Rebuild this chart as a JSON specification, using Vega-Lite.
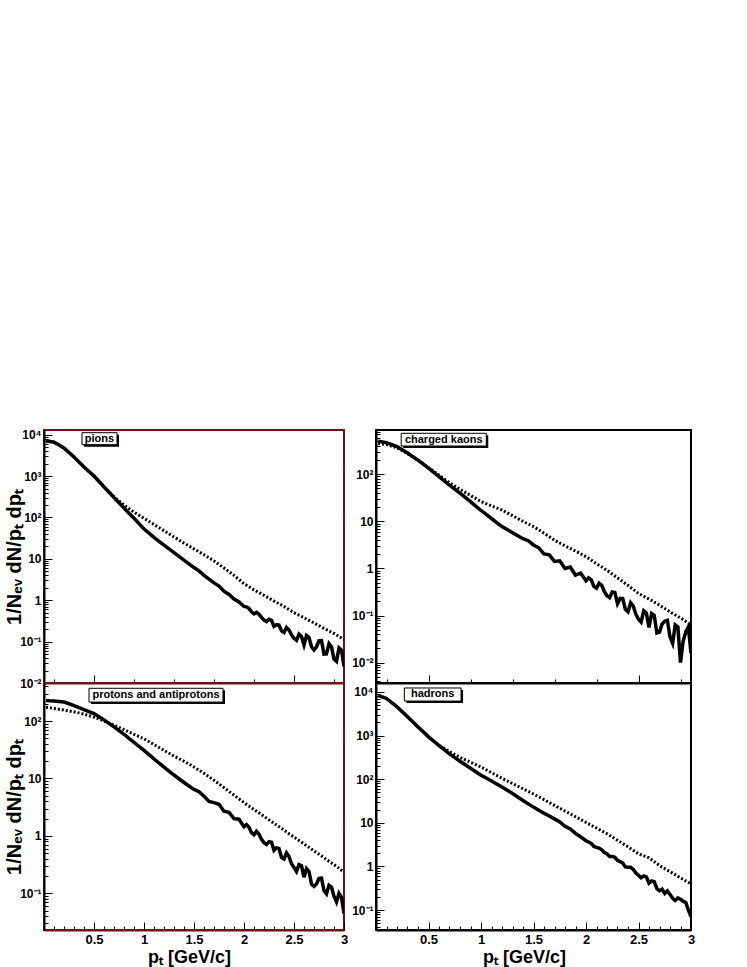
{
  "$schema": "https://vega.github.io/schema/vega-lite/v6.json",
  "padding": {"left": 3, "top": 424, "right": 5, "bottom": 5},
  "background": "white",
  "config": {
    "font": "Liberation Sans",
    "axis": {"grid": false, "labelFont": "Liberation Sans", "labelFontWeight": "bold", "titleFont": "Liberation Sans", "titleFontWeight": "bold", "tickColor": "black", "domainColor": "black", "labelColor": "black", "titleColor": "black", "labelOverlap": false, "labelFlush": false, "tickWidth": 1}
  },
  "datasets": {
    "solid": [
      {"pt": 0.02, "pi": 7080, "K": 501, "pr": 229, "h": 8320},
      {"pt": 0.05, "pi": 6920, "K": 490, "pr": 226, "h": 7760},
      {"pt": 0.1, "pi": 6610, "K": 468, "pr": 224, "h": 7080},
      {"pt": 0.15, "pi": 5620, "K": 427, "pr": 219, "h": 5690},
      {"pt": 0.2, "pi": 4790, "K": 389, "pr": 214, "h": 4570},
      {"pt": 0.25, "pi": 3720, "K": 331, "pr": 200, "h": 3510},
      {"pt": 0.3, "pi": 2880, "K": 282, "pr": 186, "h": 2690},
      {"pt": 0.35, "pi": 2190, "K": 237, "pr": 172, "h": 2070},
      {"pt": 0.4, "pi": 1660, "K": 200, "pr": 158, "h": 1580},
      {"pt": 0.45, "pi": 1290, "K": 164, "pr": 146, "h": 1220},
      {"pt": 0.5, "pi": 1000, "K": 135, "pr": 135, "h": 933},
      {"pt": 0.55, "pi": 741, "K": 110, "pr": 119, "h": 741},
      {"pt": 0.6, "pi": 550, "K": 89.1, "pr": 105, "h": 589},
      {"pt": 0.65, "pi": 407, "K": 72.4, "pr": 91.2, "h": 473},
      {"pt": 0.7, "pi": 302, "K": 58.9, "pr": 79.4, "h": 380},
      {"pt": 0.75, "pi": 226, "K": 48.4, "pr": 68.4, "h": 313},
      {"pt": 0.8, "pi": 170, "K": 39.8, "pr": 58.9, "h": 257},
      {"pt": 0.85, "pi": 127, "K": 32.4, "pr": 50.1, "h": 214},
      {"pt": 0.9, "pi": 95.5, "K": 26.3, "pr": 42.7, "h": 178},
      {"pt": 0.95, "pi": 70.8, "K": 21.1, "pr": 36.3, "h": 148},
      {"pt": 1.0, "pi": 52.5, "K": 17.0, "pr": 30.9, "h": 123},
      {"pt": 1.05, "pi": 41.7, "K": 14.0, "pr": 26.0, "h": 106},
      {"pt": 1.1, "pi": 33.1, "K": 11.5, "pr": 21.9, "h": 91.2},
      {"pt": 1.15, "pi": 26.6, "K": 9.44, "pr": 18.6, "h": 77.6},
      {"pt": 1.2, "pi": 21.4, "K": 7.76, "pr": 15.8, "h": 66.1},
      {"pt": 1.25, "pi": 17.4, "K": 6.68, "pr": 13.5, "h": 55.6},
      {"pt": 1.3, "pi": 14.1, "K": 5.75, "pr": 11.5, "h": 46.8},
      {"pt": 1.35, "pi": 11.5, "K": 4.95, "pr": 9.89, "h": 38.9},
      {"pt": 1.4, "pi": 9.33, "K": 4.27, "pr": 8.51, "h": 32.4},
      {"pt": 1.45, "pi": 7.59, "K": 3.89, "pr": 7.41, "h": 27.2},
      {"pt": 1.5, "pi": 6.17, "K": 3.16, "pr": 6.46, "h": 22.9},
      {"pt": 1.55, "pi": 5.13, "K": 2.75, "pr": 5.89, "h": 19.5},
      {"pt": 1.6, "pi": 3.98, "K": 2.04, "pr": 4.90, "h": 16.6},
      {"pt": 1.65, "pi": 3.24, "K": 1.95, "pr": 3.98, "h": 14.3},
      {"pt": 1.7, "pi": 2.63, "K": 1.41, "pr": 3.80, "h": 12.3},
      {"pt": 1.75, "pi": 2.19, "K": 1.45, "pr": 3.55, "h": 10.5},
      {"pt": 1.8, "pi": 1.66, "K": 1.0, "pr": 2.69, "h": 8.32},
      {"pt": 1.85, "pi": 1.38, "K": 1.07, "pr": 2.57, "h": 7.24},
      {"pt": 1.9, "pi": 1.07, "K": 0.724, "pr": 2.0, "h": 5.75},
      {"pt": 1.95, "pi": 0.912, "K": 0.794, "pr": 1.95, "h": 4.73},
      {"pt": 2.0, "pi": 0.708, "K": 0.55, "pr": 1.45, "h": 3.89},
      {"pt": 2.025, "pi": 0.692, "K": 0.631, "pr": 1.57, "h": 3.63},
      {"pt": 2.05, "pi": 0.631, "K": 0.575, "pr": 1.41, "h": 3.39},
      {"pt": 2.075, "pi": 0.525, "K": 0.417, "pr": 1.14, "h": 2.88},
      {"pt": 2.1, "pi": 0.468, "K": 0.380, "pr": 1.05, "h": 2.75},
      {"pt": 2.125, "pi": 0.507, "K": 0.484, "pr": 1.20, "h": 2.63},
      {"pt": 2.15, "pi": 0.457, "K": 0.437, "pr": 1.07, "h": 2.40},
      {"pt": 2.175, "pi": 0.385, "K": 0.320, "pr": 0.871, "h": 2.09},
      {"pt": 2.2, "pi": 0.331, "K": 0.263, "pr": 0.759, "h": 1.95},
      {"pt": 2.225, "pi": 0.305, "K": 0.240, "pr": 0.708, "h": 1.70},
      {"pt": 2.25, "pi": 0.347, "K": 0.316, "pr": 0.794, "h": 1.70},
      {"pt": 2.275, "pi": 0.327, "K": 0.309, "pr": 0.776, "h": 1.62},
      {"pt": 2.3, "pi": 0.234, "K": 0.178, "pr": 0.562, "h": 1.38},
      {"pt": 2.325, "pi": 0.257, "K": 0.229, "pr": 0.624, "h": 1.29},
      {"pt": 2.35, "pi": 0.251, "K": 0.229, "pr": 0.603, "h": 1.20},
      {"pt": 2.375, "pi": 0.182, "K": 0.135, "pr": 0.422, "h": 0.977},
      {"pt": 2.4, "pi": 0.166, "K": 0.120, "pr": 0.398, "h": 0.955},
      {"pt": 2.425, "pi": 0.219, "K": 0.186, "pr": 0.507, "h": 0.955},
      {"pt": 2.45, "pi": 0.191, "K": 0.158, "pr": 0.437, "h": 0.851},
      {"pt": 2.475, "pi": 0.145, "K": 0.107, "pr": 0.327, "h": 0.708},
      {"pt": 2.5, "pi": 0.120, "K": 0.0832, "pr": 0.282, "h": 0.631},
      {"pt": 2.525, "pi": 0.107, "K": 0.0724, "pr": 0.240, "h": 0.550},
      {"pt": 2.55, "pi": 0.151, "K": 0.126, "pr": 0.316, "h": 0.603},
      {"pt": 2.575, "pi": 0.133, "K": 0.112, "pr": 0.302, "h": 0.575},
      {"pt": 2.6, "pi": 0.0832, "K": 0.0562, "pr": 0.191, "h": 0.417},
      {"pt": 2.625, "pi": 0.140, "K": 0.110, "pr": 0.269, "h": 0.468},
      {"pt": 2.65, "pi": 0.126, "K": 0.1, "pr": 0.240, "h": 0.447},
      {"pt": 2.675, "pi": 0.075, "K": 0.0427, "pr": 0.145, "h": 0.309},
      {"pt": 2.7, "pi": 0.0631, "K": 0.0447, "pr": 0.132, "h": 0.275},
      {"pt": 2.725, "pi": 0.075, "K": 0.0661, "pr": 0.146, "h": 0.302},
      {"pt": 2.75, "pi": 0.105, "K": 0.0759, "pr": 0.182, "h": 0.240},
      {"pt": 2.775, "pi": 0.106, "K": 0.0794, "pr": 0.184, "h": 0.275},
      {"pt": 2.8, "pi": 0.0501, "K": 0.0355, "pr": 0.112, "h": 0.229},
      {"pt": 2.825, "pi": 0.0507, "K": 0.0257, "pr": 0.0977, "h": 0.186},
      {"pt": 2.85, "pi": 0.0891, "K": 0.0631, "pr": 0.138, "h": 0.166},
      {"pt": 2.875, "pi": 0.075, "K": 0.0575, "pr": 0.129, "h": 0.191},
      {"pt": 2.9, "pi": 0.038, "K": 0.01, "pr": 0.0891, "h": 0.178},
      {"pt": 2.925, "pi": 0.0335, "K": 0.0285, "pr": 0.0708, "h": 0.158},
      {"pt": 2.95, "pi": 0.0708, "K": 0.0447, "pr": 0.1, "h": 0.151},
      {"pt": 2.975, "pi": 0.0624, "K": 0.0569, "pr": 0.0851, "h": 0.1},
      {"pt": 3.0, "pi": 0.0251, "K": 0.0158, "pr": 0.0447, "h": 0.0708}
    ],
    "dotted": [
      {"pt": 0.02, "pi": 7080, "K": 447, "pr": 174, "h": 8320},
      {"pt": 0.1, "pi": 6610, "K": 427, "pr": 166, "h": 7080},
      {"pt": 0.2, "pi": 4790, "K": 363, "pr": 155, "h": 4570},
      {"pt": 0.3, "pi": 2880, "K": 275, "pr": 145, "h": 2690},
      {"pt": 0.4, "pi": 1660, "K": 200, "pr": 132, "h": 1580},
      {"pt": 0.5, "pi": 1000, "K": 138, "pr": 117, "h": 933},
      {"pt": 0.6, "pi": 562, "K": 95.5, "pr": 100, "h": 603},
      {"pt": 0.7, "pi": 316, "K": 66.1, "pr": 85.1, "h": 427},
      {"pt": 0.8, "pi": 200, "K": 47.9, "pr": 70.8, "h": 316},
      {"pt": 0.9, "pi": 135, "K": 35.5, "pr": 58.9, "h": 245},
      {"pt": 1.0, "pi": 95.5, "K": 26.3, "pr": 49.0, "h": 191},
      {"pt": 1.1, "pi": 67.6, "K": 21.4, "pr": 38.9, "h": 141},
      {"pt": 1.2, "pi": 47.9, "K": 17.4, "pr": 30.9, "h": 105},
      {"pt": 1.3, "pi": 33.9, "K": 13.2, "pr": 24.5, "h": 79.4},
      {"pt": 1.4, "pi": 24.0, "K": 10, "pr": 20.0, "h": 60.3},
      {"pt": 1.5, "pi": 17.4, "K": 7.76, "pr": 15.8, "h": 45.7},
      {"pt": 1.6, "pi": 12.6, "K": 5.62, "pr": 12.3, "h": 33.9},
      {"pt": 1.7, "pi": 8.91, "K": 3.98, "pr": 9.33, "h": 25.1},
      {"pt": 1.8, "pi": 6.03, "K": 3.02, "pr": 6.92, "h": 18.6},
      {"pt": 1.9, "pi": 3.98, "K": 2.34, "pr": 5.13, "h": 13.8},
      {"pt": 2.0, "pi": 2.51, "K": 1.78, "pr": 3.80, "h": 10.2},
      {"pt": 2.1, "pi": 1.78, "K": 1.26, "pr": 2.88, "h": 7.59},
      {"pt": 2.2, "pi": 1.32, "K": 0.912, "pr": 2.19, "h": 5.62},
      {"pt": 2.3, "pi": 0.955, "K": 0.631, "pr": 1.66, "h": 3.98},
      {"pt": 2.4, "pi": 0.708, "K": 0.437, "pr": 1.26, "h": 2.82},
      {"pt": 2.5, "pi": 0.501, "K": 0.295, "pr": 0.955, "h": 1.95},
      {"pt": 2.6, "pi": 0.380, "K": 0.224, "pr": 0.724, "h": 1.58},
      {"pt": 2.7, "pi": 0.282, "K": 0.166, "pr": 0.550, "h": 1.05},
      {"pt": 2.8, "pi": 0.209, "K": 0.120, "pr": 0.417, "h": 0.759},
      {"pt": 2.9, "pi": 0.158, "K": 0.0891, "pr": 0.316, "h": 0.550},
      {"pt": 3.0, "pi": 0.112, "K": 0.0631, "pr": 0.234, "h": 0.398}
    ]
  },
  "columns": 2,
  "spacing": {"row": 0, "column": 32},
  "bounds": "flush",
  "concat": [
    {
      "width": 300, "height": 253,
      "view": {"stroke": "#6e1212", "strokeWidth": 2},
      "layer": [
        {
          "data": {"name": "dotted"},
          "mark": {"type": "line", "stroke": "black", "strokeWidth": 3, "strokeDash": [2, 2], "clip": true},
          "encoding": {
            "x": {"field": "pt", "type": "quantitative", "scale": {"domain": [0, 3], "nice": false, "zero": false},
              "axis": {"title": null, "labels": false, "domainColor": "#6e1212", "domainWidth": 2, "values": [0.1,0.2,0.3,0.4,0.5,0.6,0.7,0.8,0.9,1.0,1.1,1.2,1.3,1.4,1.5,1.6,1.7,1.8,1.9,2.0,2.1,2.2,2.3,2.4,2.5,2.6,2.7,2.8,2.9],
                "tickSize": {"condition": {"test": "abs(datum.value*2 - round(datum.value*2)) < 0.001", "value": -8}, "value": -4}}},
            "y": {"field": "pi", "type": "quantitative", "scale": {"type": "log", "domain": [0.01, 13000], "nice": false},
              "axis": {"title": "1/Nₑᵥ dN/pₜ dpₜ", "titleFontSize": 20, "titleX": -30, "titleBaseline": "middle", "labelFontSize": 12, "domainWidth": 2, "labelPadding": 11,
                "values": [0.01,0.02,0.03,0.04,0.05,0.06,0.07,0.08,0.09,0.1,0.2,0.3,0.4,0.5,0.6,0.7,0.8,0.9,1,2,3,4,5,6,7,8,9,10,20,30,40,50,60,70,80,90,100,200,300,400,500,600,700,800,900,1000,2000,3000,4000,5000,6000,7000,8000,9000,10000],
                "labelExpr": "datum.value==10000?'10⁴':datum.value==1000?'10³':datum.value==100?'10²':datum.value==10?'10':datum.value==1?'1':datum.value==0.1?'10⁻¹':datum.value==0.01?'10⁻²':''",
                "tickSize": {"condition": {"test": "abs(log(datum.value)/LN10 - round(log(datum.value)/LN10)) < 0.001", "value": -8}, "value": -4}}}
          }
        },
        {
          "data": {"name": "solid"},
          "mark": {"type": "line", "stroke": "black", "strokeWidth": 3.5, "clip": true},
          "encoding": {"x": {"field": "pt", "type": "quantitative"}, "y": {"field": "pi", "type": "quantitative"}}
        },
        {
          "data": {"values": [{}]},
          "mark": {"type": "rect", "fill": "black", "xOffset": 2, "yOffset": 2, "x2Offset": 2, "y2Offset": 2, "clip": true},
          "encoding": {"x": {"datum": 0.38}, "x2": {"datum": 0.73}, "y": {"datum": 11200}, "y2": {"datum": 5750}}
        },
        {
          "data": {"values": [{}]},
          "mark": {"type": "rect", "fill": "white", "stroke": "black", "strokeWidth": 1, "clip": true},
          "encoding": {"x": {"datum": 0.38}, "x2": {"datum": 0.73}, "y": {"datum": 11200}, "y2": {"datum": 5750}}
        },
        {
          "data": {"values": [{}]},
          "mark": {"type": "text", "font": "Liberation Sans", "fontWeight": "bold", "fontSize": 11, "align": "center", "baseline": "middle"},
          "encoding": {"x": {"datum": 0.555}, "y": {"datum": 7900}, "text": {"value": "pions"}}
        }
      ]
    },
    {
      "width": 315, "height": 253,
      "view": {"stroke": "black", "strokeWidth": 2},
      "layer": [
        {
          "data": {"name": "dotted"},
          "mark": {"type": "line", "stroke": "black", "strokeWidth": 3, "strokeDash": [2, 2], "clip": true},
          "encoding": {
            "x": {"field": "pt", "type": "quantitative", "scale": {"domain": [0, 3], "nice": false, "zero": false},
              "axis": {"title": null, "labels": false, "domainWidth": 2, "values": [0.1,0.2,0.3,0.4,0.5,0.6,0.7,0.8,0.9,1.0,1.1,1.2,1.3,1.4,1.5,1.6,1.7,1.8,1.9,2.0,2.1,2.2,2.3,2.4,2.5,2.6,2.7,2.8,2.9],
                "tickSize": {"condition": {"test": "abs(datum.value*2 - round(datum.value*2)) < 0.001", "value": -8}, "value": -4}}},
            "y": {"field": "K", "type": "quantitative", "scale": {"type": "log", "domain": [0.0037, 870], "nice": false},
              "axis": {"title": null, "labelFontSize": 12, "domainWidth": 2, "labelPadding": 11,
                "values": [0.004,0.005,0.006,0.007,0.008,0.009,0.01,0.02,0.03,0.04,0.05,0.06,0.07,0.08,0.09,0.1,0.2,0.3,0.4,0.5,0.6,0.7,0.8,0.9,1,2,3,4,5,6,7,8,9,10,20,30,40,50,60,70,80,90,100,200,300,400,500,600,700,800],
                "labelExpr": "datum.value==10000?'10⁴':datum.value==1000?'10³':datum.value==100?'10²':datum.value==10?'10':datum.value==1?'1':datum.value==0.1?'10⁻¹':datum.value==0.01?'10⁻²':''",
                "tickSize": {"condition": {"test": "abs(log(datum.value)/LN10 - round(log(datum.value)/LN10)) < 0.001", "value": -8}, "value": -4}}}
          }
        },
        {
          "data": {"name": "solid"},
          "mark": {"type": "line", "stroke": "black", "strokeWidth": 3.5, "clip": true},
          "encoding": {"x": {"field": "pt", "type": "quantitative"}, "y": {"field": "K", "type": "quantitative"}}
        },
        {
          "data": {"values": [{}]},
          "mark": {"type": "rect", "fill": "black", "xOffset": 2, "yOffset": 2, "x2Offset": 2, "y2Offset": 2, "clip": true},
          "encoding": {"x": {"datum": 0.24}, "x2": {"datum": 1.05}, "y": {"datum": 741}, "y2": {"datum": 398}}
        },
        {
          "data": {"values": [{}]},
          "mark": {"type": "rect", "fill": "white", "stroke": "black", "strokeWidth": 1, "clip": true},
          "encoding": {"x": {"datum": 0.24}, "x2": {"datum": 1.05}, "y": {"datum": 741}, "y2": {"datum": 398}}
        },
        {
          "data": {"values": [{}]},
          "mark": {"type": "text", "font": "Liberation Sans", "fontWeight": "bold", "fontSize": 11, "align": "center", "baseline": "middle"},
          "encoding": {"x": {"datum": 0.645}, "y": {"datum": 540}, "text": {"value": "charged kaons"}}
        }
      ]
    },
    {
      "width": 300, "height": 247,
      "view": {"stroke": "#6e1212", "strokeWidth": 2},
      "resolve": {"axis": {"x": "independent"}},
      "layer": [
        {
          "data": {"name": "dotted"},
          "mark": {"type": "line", "stroke": "black", "strokeWidth": 3, "strokeDash": [2, 2], "clip": true},
          "encoding": {
            "x": {"field": "pt", "type": "quantitative", "scale": {"domain": [0, 3], "nice": false, "zero": false},
              "axis": {"orient": "bottom", "title": "pₜ [GeV/c]", "titleFontSize": 18, "titleX": 145, "titleY": 32, "titleBaseline": "alphabetic", "labelFontSize": 13, "labelPadding": 11, "tickSize": -8, "domainColor": "#6e1212", "domainWidth": 2, "values": [0.5, 1, 1.5, 2, 2.5, 3],
                "labelExpr": "format(datum.value, '~g')"}},
            "y": {"field": "pr", "type": "quantitative", "scale": {"type": "log", "domain": [0.023, 460], "nice": false},
              "axis": {"title": "1/Nₑᵥ dN/pₜ dpₜ", "titleFontSize": 20, "titleX": -30, "titleBaseline": "middle", "labelFontSize": 12, "domainWidth": 2, "labelPadding": 11,
                "values": [0.03,0.04,0.05,0.06,0.07,0.08,0.09,0.1,0.2,0.3,0.4,0.5,0.6,0.7,0.8,0.9,1,2,3,4,5,6,7,8,9,10,20,30,40,50,60,70,80,90,100,200,300,400],
                "labelExpr": "datum.value==10000?'10⁴':datum.value==1000?'10³':datum.value==100?'10²':datum.value==10?'10':datum.value==1?'1':datum.value==0.1?'10⁻¹':datum.value==0.01?'10⁻²':''",
                "tickSize": {"condition": {"test": "abs(log(datum.value)/LN10 - round(log(datum.value)/LN10)) < 0.001", "value": -8}, "value": -4}}}
          }
        },
        {
          "data": {"name": "solid"},
          "mark": {"type": "line", "stroke": "black", "strokeWidth": 3.5, "clip": true},
          "encoding": {
            "x": {"field": "pt", "type": "quantitative",
              "axis": {"orient": "bottom", "title": null, "labels": false, "domain": false, "tickSize": -4, "values": [0.1,0.2,0.3,0.4,0.6,0.7,0.8,0.9,1.1,1.2,1.3,1.4,1.6,1.7,1.8,1.9,2.1,2.2,2.3,2.4,2.6,2.7,2.8,2.9]}},
            "y": {"field": "pr", "type": "quantitative"}
          }
        },
        {
          "data": {"values": [{}]},
          "mark": {"type": "rect", "fill": "black", "xOffset": 2, "yOffset": 2, "x2Offset": 2, "y2Offset": 2, "clip": true},
          "encoding": {"x": {"datum": 0.45, "axis": null}, "x2": {"datum": 1.79}, "y": {"datum": 372}, "y2": {"datum": 214}}
        },
        {
          "data": {"values": [{}]},
          "mark": {"type": "rect", "fill": "white", "stroke": "black", "strokeWidth": 1, "clip": true},
          "encoding": {"x": {"datum": 0.45, "axis": null}, "x2": {"datum": 1.79}, "y": {"datum": 372}, "y2": {"datum": 214}}
        },
        {
          "data": {"values": [{}]},
          "mark": {"type": "text", "font": "Liberation Sans", "fontWeight": "bold", "fontSize": 11, "align": "center", "baseline": "middle"},
          "encoding": {"x": {"datum": 1.12, "axis": null}, "y": {"datum": 282}, "text": {"value": "protons and antiprotons"}}
        }
      ]
    },
    {
      "width": 315, "height": 247,
      "view": {"stroke": "black", "strokeWidth": 2},
      "resolve": {"axis": {"x": "independent"}},
      "layer": [
        {
          "data": {"name": "dotted"},
          "mark": {"type": "line", "stroke": "black", "strokeWidth": 3, "strokeDash": [2, 2], "clip": true},
          "encoding": {
            "x": {"field": "pt", "type": "quantitative", "scale": {"domain": [0, 3], "nice": false, "zero": false},
              "axis": {"orient": "bottom", "title": "pₜ [GeV/c]", "titleFontSize": 18, "titleX": 148, "titleY": 32, "titleBaseline": "alphabetic", "labelFontSize": 13, "labelPadding": 11, "tickSize": -8, "domainWidth": 2, "values": [0.5, 1, 1.5, 2, 2.5, 3],
                "labelExpr": "format(datum.value, '~g')"}},
            "y": {"field": "h", "type": "quantitative", "scale": {"type": "log", "domain": [0.035, 16000], "nice": false},
              "axis": {"title": null, "labelFontSize": 12, "domainWidth": 2, "labelPadding": 11,
                "values": [0.04,0.05,0.06,0.07,0.08,0.09,0.1,0.2,0.3,0.4,0.5,0.6,0.7,0.8,0.9,1,2,3,4,5,6,7,8,9,10,20,30,40,50,60,70,80,90,100,200,300,400,500,600,700,800,900,1000,2000,3000,4000,5000,6000,7000,8000,9000,10000],
                "labelExpr": "datum.value==10000?'10⁴':datum.value==1000?'10³':datum.value==100?'10²':datum.value==10?'10':datum.value==1?'1':datum.value==0.1?'10⁻¹':datum.value==0.01?'10⁻²':''",
                "tickSize": {"condition": {"test": "abs(log(datum.value)/LN10 - round(log(datum.value)/LN10)) < 0.001", "value": -8}, "value": -4}}}
          }
        },
        {
          "data": {"name": "solid"},
          "mark": {"type": "line", "stroke": "black", "strokeWidth": 3.5, "clip": true},
          "encoding": {
            "x": {"field": "pt", "type": "quantitative",
              "axis": {"orient": "bottom", "title": null, "labels": false, "domain": false, "tickSize": -4, "values": [0.1,0.2,0.3,0.4,0.6,0.7,0.8,0.9,1.1,1.2,1.3,1.4,1.6,1.7,1.8,1.9,2.1,2.2,2.3,2.4,2.6,2.7,2.8,2.9]}},
            "y": {"field": "h", "type": "quantitative"}
          }
        },
        {
          "data": {"values": [{}]},
          "mark": {"type": "rect", "fill": "black", "xOffset": 2, "yOffset": 2, "x2Offset": 2, "y2Offset": 2, "clip": true},
          "encoding": {"x": {"datum": 0.27, "axis": null}, "x2": {"datum": 0.81}, "y": {"datum": 12300}, "y2": {"datum": 6170}}
        },
        {
          "data": {"values": [{}]},
          "mark": {"type": "rect", "fill": "white", "stroke": "black", "strokeWidth": 1, "clip": true},
          "encoding": {"x": {"datum": 0.27, "axis": null}, "x2": {"datum": 0.81}, "y": {"datum": 12300}, "y2": {"datum": 6170}}
        },
        {
          "data": {"values": [{}]},
          "mark": {"type": "text", "font": "Liberation Sans", "fontWeight": "bold", "fontSize": 11, "align": "center", "baseline": "middle"},
          "encoding": {"x": {"datum": 0.54, "axis": null}, "y": {"datum": 8750}, "text": {"value": "hadrons"}}
        }
      ]
    }
  ]
}
